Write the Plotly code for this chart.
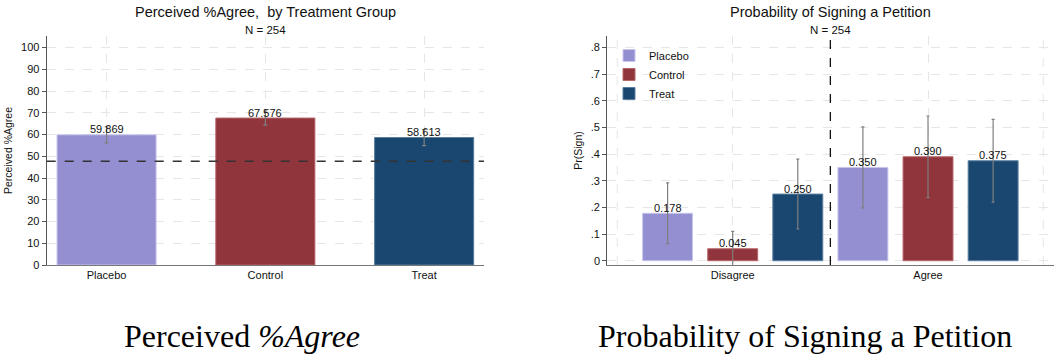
import plotly.graph_objects as go

# ---------------- data ----------------
groups_left = ["Placebo", "Control", "Treat"]
agree_means = [59.869, 67.576, 58.613]
agree_err = [3.7, 3.3, 3.7]
reference_line = 47.7
y_ticks_left = [0, 10, 20, 30, 40, 50, 60, 70, 80, 90, 100]

stance_groups = ["Disagree", "Agree"]
treatments = ["Placebo", "Control", "Treat"]
sign_placebo = [0.178, 0.350]
sign_control = [0.045, 0.390]
sign_treat = [0.250, 0.375]
err_placebo = [0.114, 0.152]
err_control = [0.065, 0.153]
err_treat = [0.131, 0.155]
y_ticks_right = [0, 0.1, 0.2, 0.3, 0.4, 0.5, 0.6, 0.7, 0.8]
y_ticktext_right = ["0", ".1", ".2", ".3", ".4", ".5", ".6", ".7", ".8"]

colors = ["#938fd1", "#90353b", "#1a476f"]
edge_colors = ["#c9c6ee", "#b8676d", "#5a7ea0"]

FONT = "Liberation Sans, Arial, sans-serif"
W, H = 1054, 356

fig = go.Figure()

# ---------------- left chart ----------------
fig.add_trace(go.Bar(
    x=groups_left, y=agree_means, width=0.624,
    marker=dict(color=colors, line=dict(color=edge_colors, width=1)),
    error_y=dict(type="data", array=agree_err, color="#7f7f7f", thickness=1.2, width=2),
    xaxis="x", yaxis="y", showlegend=False, hoverinfo="x+y",
))
for g, v in zip(groups_left, agree_means):
    fig.add_annotation(x=g, y=v, xref="x", yref="y", text=f"{v:.3f}",
                       showarrow=False, yanchor="bottom", yshift=-2.5,
                       font=dict(family=FONT, size=11, color="#111"))
fig.add_shape(type="line", x0=0, x1=1, xref="x domain", y0=reference_line,
              y1=reference_line, yref="y",
              line=dict(color="#333", width=1.3, dash="dash"))

# ---------------- right chart ----------------
bw = 0.767 / 3
sign_vals = [sign_placebo, sign_control, sign_treat]
sign_errs = [err_placebo, err_control, err_treat]
for j, (name, vals, errs) in enumerate(zip(treatments, sign_vals, sign_errs)):
    off = (j - 1) / 3
    fig.add_trace(go.Bar(
        x=stance_groups, y=vals, name=name, width=bw, offset=off - bw / 2,
        marker=dict(color=colors[j], line=dict(color=edge_colors[j], width=1)),
        error_y=dict(type="data", array=errs, color="#7f7f7f", thickness=1.2, width=1.5),
        xaxis="x2", yaxis="y2",
    ))
    for gi, v in enumerate(vals):
        fig.add_annotation(x=gi + off, y=v, xref="x2", yref="y2", text=f"{v:.3f}",
                           showarrow=False, yanchor="bottom", yshift=-2.5,
                           font=dict(family=FONT, size=11, color="#111"))

fig.add_shape(type="line", x0=0.5, x1=0.5, xref="x2", y0=0, y1=1, yref="y2 domain",
              line=dict(color="#111", width=1.3, dash="dash"))
for gx in [-0.591, 1.590]:
    fig.add_shape(type="line", x0=gx, x1=gx, xref="x2", y0=0, y1=1, yref="y2 domain",
                  line=dict(color="#e6e6e6", width=1, dash="dash"), layer="below")

# ---------------- titles ----------------
titles = [
    ("Perceived %Agree, \u00a0by Treatment Group", 265 / W),
    ("Probability of Signing a Petition", 830.7 / W),
]
for t, xc in titles:
    fig.add_annotation(x=xc, y=1 - 12 / H, xref="paper", yref="paper", text=t,
                       showarrow=False, xanchor="center", yanchor="middle",
                       font=dict(family=FONT, size=14.5, color="#111"))
    fig.add_annotation(x=xc, y=1 - 30 / H, xref="paper", yref="paper", text="N = 254",
                       showarrow=False, xanchor="center", yanchor="middle",
                       font=dict(family=FONT, size=11.5, color="#111"))

captions = [
    ("Perceived <i>%Agree</i>", 242 / W),
    ("Probability of Signing a Petition", 805 / W),
]
for t, xc in captions:
    fig.add_annotation(x=xc, y=1 - 336 / H, xref="paper", yref="paper", text=t,
                       showarrow=False, xanchor="center", yanchor="middle",
                       font=dict(family="Liberation Serif, serif", size=32, color="#000"))

ydom = [(H - 265) / H, (H - 36) / H]
grid = dict(showgrid=True, gridcolor="#e6e6e6", griddash="dash", gridwidth=1,
            automargin=False)

fig.update_layout(
    template="none",
    width=W, height=H, margin=dict(l=0, r=0, t=0, b=0),
    paper_bgcolor="white", plot_bgcolor="white",
    font=dict(family=FONT, size=11, color="#111"),
    barmode="overlay",
    xaxis=dict(domain=[46.7 / W, 484 / W], type="category", range=[-0.377, 2.377],
               anchor="y", showline=True, linecolor="#777", linewidth=1.2, ticks="",
               tickfont=dict(size=11), zeroline=False, **grid),
    yaxis=dict(domain=ydom, range=[0, 105.3], tickvals=y_ticks_left, anchor="x",
               showline=True, linecolor="#555", linewidth=1.2, ticks="outside",
               ticklen=4, tickcolor="#555", tickfont=dict(size=11), zeroline=False,
               title=dict(text="Perceived %Agree", font=dict(size=10.5), standoff=6),
               **grid),
    xaxis2=dict(domain=[607.3 / W, 1.0], type="category", range=[-0.642, 1.645],
                anchor="y2", showline=True, linecolor="#777", linewidth=1.2, ticks="",
                tickfont=dict(size=11), zeroline=False, **grid),
    yaxis2=dict(domain=ydom, range=[-0.016, 0.843], tickvals=y_ticks_right,
                ticktext=y_ticktext_right, anchor="x2",
                showline=True, linecolor="#555", linewidth=1.2, ticks="outside",
                ticklen=4, tickcolor="#555", tickfont=dict(size=11), zeroline=False,
                title=dict(text="Pr(Sign)", font=dict(size=10.5), standoff=6),
                **grid),
    legend=dict(x=609 / W, y=1 - 41 / H, xanchor="left", yanchor="top",
                bgcolor="rgba(255,255,255,0)", font=dict(size=11), tracegroupgap=0),
)

fig.write_html("out.html")
